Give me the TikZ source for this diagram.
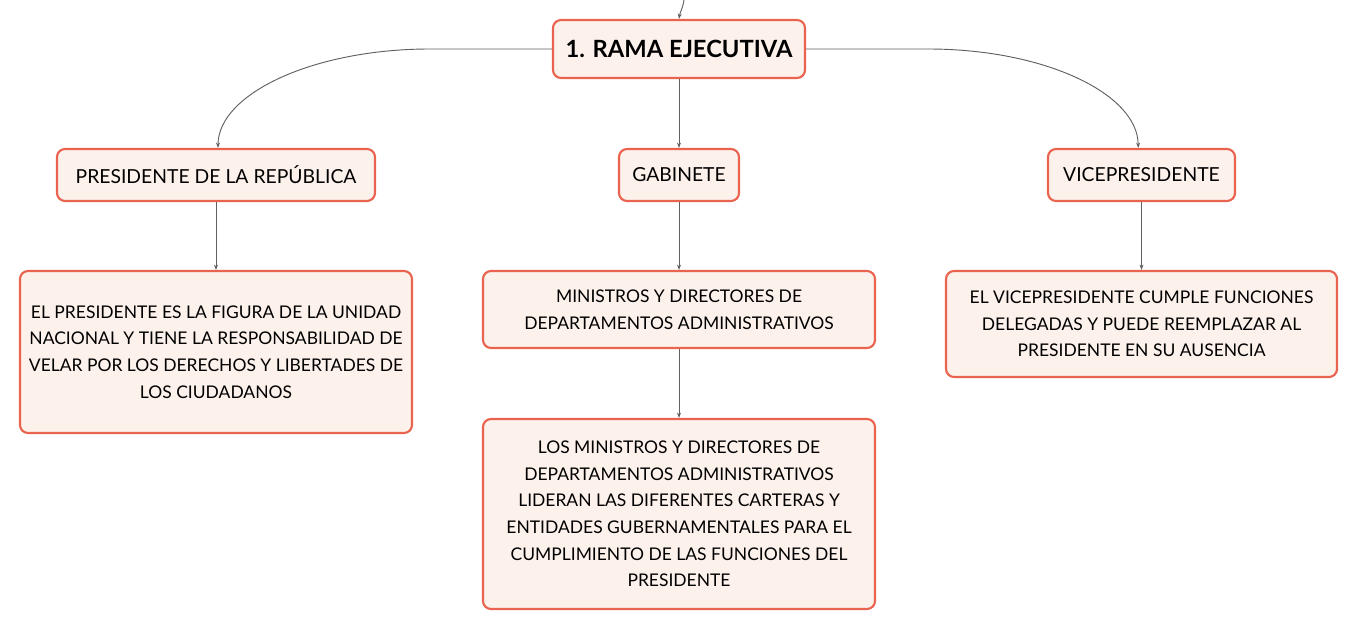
\documentclass[tikz,border=0pt]{standalone}
\usepackage{fontspec}
\setmainfont{Lato}
\usetikzlibrary{arrows.meta}
\definecolor{boxline}{HTML}{E9634F}
\definecolor{boxfill}{HTML}{FDF1EC}
\definecolor{linkgray}{HTML}{606060}
\begin{document}
\begin{tikzpicture}[x=0.75pt,y=0.75pt,
    box/.style={draw=boxline,fill=boxfill,line width=1.6pt,rounded corners=6pt,
      align=center,inner sep=0pt,font=\fontsize{13.1}{20}\selectfont},
    branch/.style={box,font=\fontsize{14.5}{20}\selectfont},
    head/.style={box,font=\fontsize{17.8}{20}\selectfont\bfseries},
    link/.style={draw=linkgray,line width=0.7pt,-{Stealth[length=4pt,width=3pt]}}]
  \useasboundingbox (0,0) rectangle (1359,-631);
  % main branch
  \coordinate (top) at (684,0);
  \node[head,minimum width=189pt,minimum height=43.5pt] (rama) at (679,-49) {1. RAMA EJECUTIVA};
  % second level
  \node[branch,minimum width=238.5pt,minimum height=39pt] (pres) at (216,-175) {PRESIDENTE DE LA REPÚBLICA};
  \node[branch,minimum width=90pt,minimum height=39pt] (gab) at (679,-175) {GABINETE};
  \node[branch,minimum width=140.25pt,minimum height=39pt] (vice) at (1141.5,-175) {VICEPRESIDENTE};
  % descriptions
  \node[box,minimum width=294pt,minimum height=121.5pt] (presdesc) at (216,-352)
    {EL PRESIDENTE ES LA FIGURA DE LA UNIDAD\\NACIONAL Y TIENE LA RESPONSABILIDAD DE\\VELAR POR LOS DERECHOS Y LIBERTADES DE\\LOS CIUDADANOS};
  \node[box,minimum width=294pt,minimum height=57.75pt] (gabmin) at (679,-309.5)
    {MINISTROS Y DIRECTORES DE\\DEPARTAMENTOS ADMINISTRATIVOS};
  \node[box,minimum width=294pt,minimum height=142.5pt] (gabdesc) at (679,-514)
    {LOS MINISTROS Y DIRECTORES DE\\DEPARTAMENTOS ADMINISTRATIVOS\\LIDERAN LAS DIFERENTES CARTERAS Y\\ENTIDADES GUBERNAMENTALES PARA EL\\CUMPLIMIENTO DE LAS FUNCIONES DEL\\PRESIDENTE};
  \node[box,minimum width=293.25pt,minimum height=79.5pt] (vicedesc) at (1141.5,-324)
    {EL VICEPRESIDENTE CUMPLE FUNCIONES\\DELEGADAS Y PUEDE REEMPLAZAR AL\\PRESIDENTE EN SU AUSENCIA};
  % connectors
  \draw[link] (top) .. controls (683,-8) and (680,-12) .. (rama.north);
  \draw[link] (rama.west) -- (430,-49) .. controls (313,-49) and (218,-94) .. ([xshift=1.5pt]pres.north);
  \draw[link] (rama.east) -- (928,-49) .. controls (1045,-49) and (1138,-94) .. ([xshift=-2.5pt]vice.north);
  \draw[link] (rama) -- (gab);
  \draw[link] (pres) -- (presdesc);
  \draw[link] (gab) -- (gabmin);
  \draw[link] (gabmin) -- (gabdesc);
  \draw[link] (vice) -- (vicedesc);
\end{tikzpicture}
\end{document}
